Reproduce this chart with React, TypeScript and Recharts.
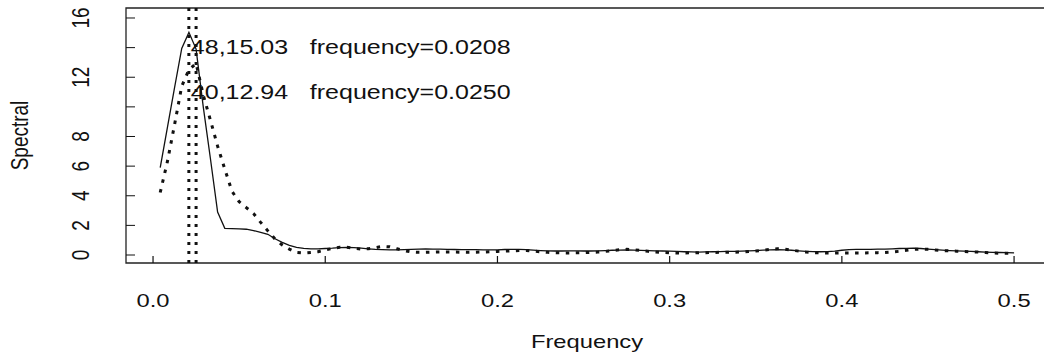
import React from "react";
import { LineChart, Line, XAxis, YAxis, ReferenceLine, ReferenceArea, ReferenceDot } from "recharts";

// periodogram values at Fourier frequencies k/240, k = 1..120
const N_OBS = 240;

const SOLID = [
  5.9, 8.6, 11.3, 13.95, 15.03, 13.9, 10.0, 6.5, 2.9, 1.8,
  1.78, 1.76, 1.74, 1.65, 1.52, 1.4, 1.1, 0.85, 0.65, 0.52,
  0.45, 0.42, 0.42, 0.44, 0.46, 0.5, 0.52, 0.5, 0.46, 0.42,
  0.38, 0.36, 0.35, 0.35, 0.36, 0.38, 0.4, 0.41, 0.4, 0.39,
  0.38, 0.37, 0.36, 0.36, 0.36, 0.35, 0.34, 0.35, 0.37, 0.38,
  0.38, 0.36, 0.33, 0.3, 0.28, 0.27, 0.27, 0.28, 0.28, 0.27,
  0.27, 0.28, 0.3, 0.32, 0.33, 0.34, 0.33, 0.31, 0.29, 0.28,
  0.27, 0.26, 0.24, 0.22, 0.21, 0.2, 0.21, 0.22, 0.23, 0.24,
  0.25, 0.26, 0.28, 0.3, 0.33, 0.35, 0.36, 0.35, 0.32, 0.28,
  0.25, 0.23, 0.22, 0.23, 0.26, 0.32, 0.36, 0.38, 0.38, 0.38,
  0.39, 0.4, 0.42, 0.44, 0.45, 0.46, 0.44, 0.4, 0.36, 0.33,
  0.3, 0.28, 0.26, 0.24, 0.22, 0.2, 0.18, 0.17, 0.16, 0.15,
];

const DOTTED = [
  4.22, 6.3, 8.8, 11.4, 12.5, 12.94, 10.8, 9.1, 7.35, 5.8,
  4.3, 3.6, 3.2, 2.8, 2.2, 1.63, 1.08, 0.68, 0.4, 0.17,
  0.13, 0.17, 0.22, 0.34, 0.44, 0.52, 0.52, 0.45, 0.4, 0.42,
  0.5, 0.58, 0.55, 0.42, 0.3, 0.2, 0.18, 0.18, 0.19, 0.2,
  0.2, 0.2, 0.19, 0.18, 0.19, 0.2, 0.22, 0.24, 0.26, 0.28,
  0.3, 0.3, 0.26, 0.22, 0.18, 0.15, 0.14, 0.14, 0.15, 0.16,
  0.18, 0.2, 0.24, 0.3, 0.35, 0.38, 0.36, 0.3, 0.25, 0.2,
  0.17, 0.15, 0.14, 0.14, 0.15, 0.15, 0.16, 0.17, 0.18, 0.18,
  0.19, 0.2, 0.23, 0.27, 0.32, 0.38, 0.42, 0.4, 0.33, 0.26,
  0.2, 0.16, 0.14, 0.13, 0.13, 0.14, 0.14, 0.14, 0.14, 0.15,
  0.16, 0.17, 0.2, 0.25, 0.32, 0.38, 0.4, 0.38, 0.34, 0.3,
  0.28, 0.26, 0.24, 0.22, 0.2, 0.17, 0.14, 0.12, 0.12, 0.13,
];

const PEAK_FREQS = [0.0208, 0.025];
const ANNOT_X = 0.0208;
const ANNOT_Y = [14.05, 10.95];
const ANNOT_LEFT = ["48,15.03", "40,12.94"];
const ANNOT_RIGHT = ["frequency=0.0208", "frequency=0.0250"];

const X_TICKS = [0, 0.1, 0.2, 0.3, 0.4, 0.5];
const Y_TICKS = [0, 2, 4, 6, 8, 10, 12, 14, 16];
const Y_HIDDEN = [10, 14];
const X_DOMAIN: [number, number] = [-0.0157, 0.5197];
const Y_DOMAIN: [number, number] = [-0.54, 16.675];

const FONT = "'Liberation Sans', Arial, sans-serif";
const SX = 1.25;
const FS = 19;
const FS_ANNOT = 20;

const data = SOLID.map((v, i) => ({ freq: (i + 1) / N_OBS, s1: v, s2: DOTTED[i] }));

function XTick(props: any) {
  const { x, y, payload } = props;
  return (
    <g>
      <line x1={x} x2={x} y1={y} y2={y - 7} stroke="#111" strokeWidth={1.2} />
      <text
        transform={`translate(${x},${y + 44}) scale(${SX},1)`}
        textAnchor="middle"
        fontFamily={FONT}
        fontSize={FS}
        fill="#111"
      >
        {payload.value.toFixed(1)}
      </text>
    </g>
  );
}

function YTick(props: any) {
  const { x, y, payload } = props;
  const show = !Y_HIDDEN.includes(payload.value);
  return (
    <g>
      <line x1={x} x2={x + 9} y1={y} y2={y} stroke="#111" strokeWidth={1} />
      {show && (
        <text
          transform={`translate(${x - 37},${y}) scale(${SX},1) rotate(-90)`}
          textAnchor="middle"
          fontFamily={FONT}
          fontSize={FS}
          fill="#111"
        >
          {payload.value}
        </text>
      )}
    </g>
  );
}

function annot(i: number) {
  return (p: any) => (
    <g>
      <text
        transform={`translate(${p.cx + 2},${p.cy}) scale(${SX},1)`}
        dominantBaseline="central"
        fontFamily={FONT}
        fontSize={FS_ANNOT}
        fill="#111"
      >
        {ANNOT_LEFT[i]}
      </text>
      <text
        transform={`translate(${p.cx + 121},${p.cy}) scale(${SX},1)`}
        dominantBaseline="central"
        fontFamily={FONT}
        fontSize={FS_ANNOT}
        fill="#111"
      >
        {ANNOT_RIGHT[i]}
      </text>
    </g>
  );
}

export default function App() {
  return (
    <div style={{ position: "absolute", left: 0, top: 0, width: 1044, height: 356, overflow: "hidden", background: "#fff" }}>
      <LineChart width={1060} height={356} data={data} margin={{ top: 8, right: 12, bottom: 0, left: 0 }}>
        <XAxis
          type="number"
          dataKey="freq"
          domain={X_DOMAIN}
          ticks={X_TICKS}
          allowDataOverflow
          axisLine={false}
          tickLine={false}
          tickSize={0}
          tickMargin={0}
          height={93}
          interval={0}
          tick={XTick}
        />
        <YAxis
          type="number"
          domain={Y_DOMAIN}
          ticks={Y_TICKS}
          allowDataOverflow
          axisLine={false}
          tickLine={false}
          tickSize={0}
          tickMargin={0}
          width={126}
          interval={0}
          tick={YTick}
        />
        <ReferenceArea
          x1={X_DOMAIN[0]}
          x2={X_DOMAIN[1]}
          y1={Y_DOMAIN[0]}
          y2={Y_DOMAIN[1]}
          fill="none"
          stroke="#222"
          strokeWidth={1.3}
          fillOpacity={0}
        />
        <Line type="linear" dataKey="s1" stroke="#111" strokeWidth={1.3} dot={false} isAnimationActive={false} />
        <Line
          type="linear"
          dataKey="s2"
          stroke="#111"
          strokeWidth={3}
          strokeDasharray="3.5 6.5"
          dot={false}
          isAnimationActive={false}
        />
        {PEAK_FREQS.map((f) => (
          <ReferenceLine key={f} x={f} stroke="#111" strokeWidth={3} strokeDasharray="3 6" />
        ))}
        {ANNOT_Y.map((yv, i) => (
          <ReferenceDot key={i} x={ANNOT_X} y={yv} r={0} shape={annot(i)} />
        ))}
      </LineChart>
      <svg width={1044} height={356} style={{ position: "absolute", left: 0, top: 0, pointerEvents: "none" }}>
        <text
          transform={`translate(587,348) scale(${SX},1)`}
          textAnchor="middle"
          fontFamily={FONT}
          fontSize={FS}
          fill="#111"
        >
          Frequency
        </text>
        <text
          transform={`translate(28,135.5) scale(${SX},1) rotate(-90)`}
          textAnchor="middle"
          fontFamily={FONT}
          fontSize={FS}
          fill="#111"
        >
          Spectral
        </text>
      </svg>
    </div>
  );
}
